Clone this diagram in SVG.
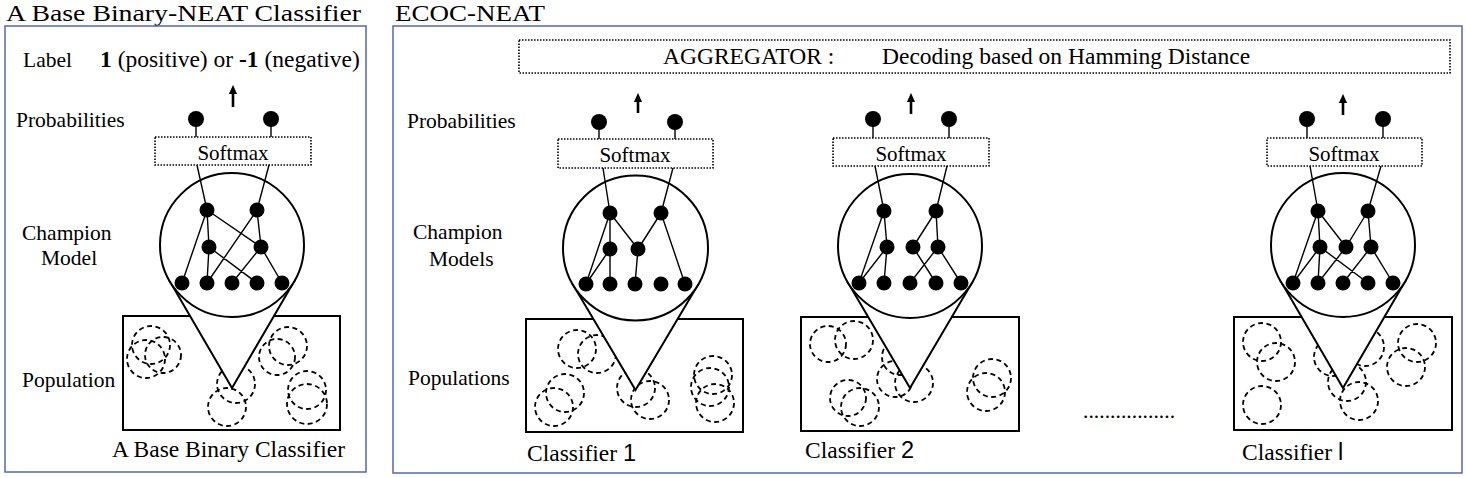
<svg xmlns="http://www.w3.org/2000/svg" width="1466" height="478" viewBox="0 0 1466 478">
<defs>
<style>
text{font-family:"Liberation Serif","Times New Roman",serif;fill:#000}
.ttl{font-size:23px}
.lab{font-size:21.5px}
.big{font-size:23.5px}
.sm{font-size:21px}
.frame{fill:none;stroke:#5468ad;stroke-width:1.5}
.pop{fill:#fff;stroke:#000;stroke-width:2}
.dash{fill:none;stroke:#000;stroke-width:1.8;stroke-dasharray:5 3.5}
.cone{fill:#fff;stroke:#000;stroke-width:2;stroke-linejoin:miter}
.champ{fill:#fff;stroke:#000;stroke-width:2}
.soft{fill:#fff;stroke:#000;stroke-width:1.6;stroke-dasharray:1.5 1.5}
.agg{fill:#fff;stroke:#000;stroke-width:1.6;stroke-dasharray:1.5 1.5}
.e{stroke:#000;stroke-width:1.4;fill:none}
.arr{stroke:#000;stroke-width:2.6;fill:none}
.n{fill:#000}
.sans{font-family:"Liberation Sans",Arial,sans-serif}
</style>
<marker id="ah" markerUnits="userSpaceOnUse" viewBox="0 0 10 10" refX="1" refY="5" markerWidth="9" markerHeight="9" orient="auto">
<path d="M0,0.5 L10,5 L0,9.5 z" fill="#000"/>
</marker>
</defs>

<!-- frames and titles -->
<g id="panel-left">
<text class="ttl" x="6" y="21" textLength="355" lengthAdjust="spacingAndGlyphs">A Base Binary-NEAT Classifier</text>
<rect class="frame" x="5" y="26" width="361" height="446"/>
</g>
<g id="panel-ecoc">
<text class="ttl" x="395" y="21" textLength="150" lengthAdjust="spacingAndGlyphs">ECOC-NEAT</text>
<rect class="frame" x="393" y="26" width="1069" height="447"/>
</g>

<!-- side labels -->
<g id="labels-left">
<text class="lab" x="23" y="67">Label</text>
<text class="big" x="100" y="67"><tspan font-weight="bold">1</tspan> (positive) or <tspan font-weight="bold">-1</tspan> (negative)</text>
<text class="lab" x="16" y="127">Probabilities</text>
<text class="lab" x="22" y="240">Champion</text>
<text class="lab" x="41" y="265">Model</text>
<text class="lab" x="22" y="387">Population</text>
<text class="big" x="112" y="457">A Base Binary Classifier</text>
</g>
<g id="labels-ecoc">
<text class="lab" x="407" y="128">Probabilities</text>
<text class="lab" x="413" y="239">Champion</text>
<text class="lab" x="429" y="266">Models</text>
<text class="lab" x="408" y="385">Populations</text>
<text class="big" x="527" y="461">Classifier <tspan class="sans">1</tspan></text>
<text class="big" x="805" y="458">Classifier <tspan class="sans">2</tspan></text>
<text class="big" x="1242" y="460">Classifier <tspan class="sans">l</tspan></text>
<text class="lab" x="1083" y="418" textLength="92">.................</text>
</g>

<!-- aggregator -->
<g id="aggregator">
<rect class="agg" x="519" y="40" width="931" height="33"/>
<text class="big" x="663" y="64">AGGREGATOR :</text>
<text class="big" x="882" y="64">Decoding based on Hamming Distance</text>
</g>

<!-- populations -->
<g id="pop-left">
<rect class="pop" x="123" y="316" width="217" height="114"/>
<circle class="dash" cx="151" cy="345" r="19"/>
<circle class="dash" cx="146" cy="359" r="19"/>
<circle class="dash" cx="163" cy="355" r="18"/>
<circle class="dash" cx="288" cy="346" r="19"/>
<circle class="dash" cx="277" cy="357" r="18"/>
<circle class="dash" cx="307" cy="390" r="19"/>
<circle class="dash" cx="307" cy="404" r="20"/>
<circle class="dash" cx="236" cy="384" r="19"/>
<circle class="dash" cx="227" cy="407" r="19"/>
</g>
<g id="pop-1">
<rect class="pop" x="526" y="319" width="217" height="113"/>
<circle class="dash" cx="577" cy="349" r="19"/>
<circle class="dash" cx="597" cy="354" r="19"/>
<circle class="dash" cx="565" cy="393" r="19"/>
<circle class="dash" cx="554" cy="407" r="19"/>
<circle class="dash" cx="636" cy="388" r="19"/>
<circle class="dash" cx="650" cy="400" r="19"/>
<circle class="dash" cx="713" cy="375" r="19"/>
<circle class="dash" cx="710" cy="387" r="19"/>
<circle class="dash" cx="715" cy="403" r="19"/>
</g>
<g id="pop-2">
<rect class="pop" x="801" y="317" width="218" height="114"/>
<circle class="dash" cx="828" cy="344" r="18"/>
<circle class="dash" cx="854" cy="340" r="19"/>
<circle class="dash" cx="848" cy="398" r="18"/>
<circle class="dash" cx="860" cy="407" r="19"/>
<circle class="dash" cx="900" cy="357" r="18"/>
<circle class="dash" cx="895" cy="379" r="18"/>
<circle class="dash" cx="914" cy="383" r="19"/>
<circle class="dash" cx="986" cy="392" r="19"/>
<circle class="dash" cx="992" cy="378" r="19"/>
</g>
<g id="pop-l">
<rect class="pop" x="1234" y="317" width="218" height="113"/>
<circle class="dash" cx="1262" cy="342" r="19"/>
<circle class="dash" cx="1276" cy="362" r="19"/>
<circle class="dash" cx="1262" cy="405" r="19"/>
<circle class="dash" cx="1333" cy="357" r="19"/>
<circle class="dash" cx="1365" cy="347" r="19"/>
<circle class="dash" cx="1347" cy="382" r="19"/>
<circle class="dash" cx="1359" cy="401" r="19"/>
<circle class="dash" cx="1417" cy="343" r="19"/>
<circle class="dash" cx="1406" cy="367" r="19"/>
</g>

<!-- champion magnifiers -->
<g id="champ-left">
<polygon class="cone" points="169.8,281.2 232,388 294.2,281.2"/>
<circle class="champ" cx="232" cy="245" r="72"/>
</g>
<g id="champ-1">
<polygon class="cone" points="573.2,285 635.5,390 697.8,285"/>
<circle class="champ" cx="635.5" cy="248" r="72.5"/>
</g>
<g id="champ-2">
<polygon class="cone" points="847.9,282.5 910,388 972.1,282.5"/>
<circle class="champ" cx="910" cy="246" r="72"/>
</g>
<g id="champ-l">
<polygon class="cone" points="1280.8,281.2 1343,388 1405.2,281.2"/>
<circle class="champ" cx="1343" cy="245" r="72"/>
</g>

<!-- softmax boxes -->
<g id="softmax-left"><rect class="soft" x="155" y="137" width="156" height="28"/><text class="sm" x="233" y="160" text-anchor="middle">Softmax</text></g>
<g id="softmax-1"><rect class="soft" x="558" y="139" width="155" height="29"/><text class="sm" x="635" y="162" text-anchor="middle">Softmax</text></g>
<g id="softmax-2"><rect class="soft" x="833" y="138" width="156" height="28"/><text class="sm" x="911" y="161" text-anchor="middle">Softmax</text></g>
<g id="softmax-l"><rect class="soft" x="1267" y="138" width="155" height="28"/><text class="sm" x="1344" y="161" text-anchor="middle">Softmax</text></g>

<!-- connectors -->
<g id="connectors">
<line class="arr" x1="233" y1="107" x2="233" y2="93" marker-end="url(#ah)"/>
<line class="arr" x1="638" y1="113" x2="638" y2="101" marker-end="url(#ah)"/>
<line class="arr" x1="911" y1="114" x2="911" y2="101" marker-end="url(#ah)"/>
<line class="arr" x1="1343" y1="115" x2="1343" y2="102" marker-end="url(#ah)"/>
<path class="e" d="M196,119V137M271,119V137M197,165L207,210M269,165L257,210
M207,210L182,283M207,210L209,247M207,210L261,247M257,210L261,247M257,210L207,283
M209,247L207,283M209,247L257,283M261,247L232,283M261,247L282,283"/>
<path class="e" d="M599,122V139M675,122V139M603,168L610,213M673,168L661,213
M610,213L586,284M610,213L610,249M610,213L638,249M661,213L638,249M661,213L685,284
M610,249L586,284M610,249L610,284M638,249L635,284"/>
<path class="e" d="M873,119V138M949,119V138M875,166L884,211M947,166L936,211
M884,211L859,283M884,211L887,247M887,247L859,283M887,247L884,283
M936,211L913,247M936,211L938,247M913,247L936,283M938,247L910,283M938,247L961,283"/>
<path class="e" d="M1307,119V138M1383,119V138M1310,166L1318,211M1381,166L1368,211
M1318,211L1293,283M1318,211L1320,247M1318,211L1346,247M1368,211L1346,247M1368,211L1371,247
M1320,247L1293,283M1320,247L1318,283M1320,247L1368,283M1346,247L1318,283M1371,247L1343,283M1371,247L1393,283"/>
</g>

<!-- network nodes -->
<g id="nodes-left" class="n">
<circle id="L-p1" cx="196" cy="119" r="8"/><circle id="L-p2" cx="271" cy="119" r="8"/>
<circle id="L-t1" cx="207" cy="210" r="7.5"/><circle id="L-t2" cx="257" cy="210" r="7.5"/>
<circle id="L-m1" cx="209" cy="247" r="7.5"/><circle id="L-m2" cx="261" cy="247" r="7.5"/>
<circle id="L-b1" cx="182" cy="283" r="7.5"/><circle id="L-b2" cx="207" cy="283" r="7.5"/><circle id="L-b3" cx="232" cy="283" r="7.5"/><circle id="L-b4" cx="257" cy="283" r="7.5"/><circle id="L-b5" cx="282" cy="283" r="7.5"/>
</g>
<g id="nodes-1" class="n">
<circle id="C1-p1" cx="599" cy="122" r="8"/><circle id="C1-p2" cx="675" cy="122" r="8"/>
<circle id="C1-t1" cx="610" cy="213" r="7.5"/><circle id="C1-t2" cx="661" cy="213" r="7.5"/>
<circle id="C1-m1" cx="610" cy="249" r="7.5"/><circle id="C1-m2" cx="638" cy="249" r="7.5"/>
<circle id="C1-b1" cx="586" cy="284" r="7.5"/><circle id="C1-b2" cx="610" cy="284" r="7.5"/><circle id="C1-b3" cx="635" cy="284" r="7.5"/><circle id="C1-b4" cx="661" cy="284" r="7.5"/><circle id="C1-b5" cx="685" cy="284" r="7.5"/>
</g>
<g id="nodes-2" class="n">
<circle id="C2-p1" cx="873" cy="119" r="8"/><circle id="C2-p2" cx="949" cy="119" r="8"/>
<circle id="C2-t1" cx="884" cy="211" r="7.5"/><circle id="C2-t2" cx="936" cy="211" r="7.5"/>
<circle id="C2-m1" cx="887" cy="247" r="7.5"/><circle id="C2-m2" cx="913" cy="247" r="7.5"/><circle id="C2-m3" cx="938" cy="247" r="7.5"/>
<circle id="C2-b1" cx="859" cy="283" r="7.5"/><circle id="C2-b2" cx="884" cy="283" r="7.5"/><circle id="C2-b3" cx="910" cy="283" r="7.5"/><circle id="C2-b4" cx="936" cy="283" r="7.5"/><circle id="C2-b5" cx="961" cy="283" r="7.5"/>
</g>
<g id="nodes-l" class="n">
<circle id="Cl-p1" cx="1307" cy="119" r="8"/><circle id="Cl-p2" cx="1383" cy="119" r="8"/>
<circle id="Cl-t1" cx="1318" cy="211" r="7.5"/><circle id="Cl-t2" cx="1368" cy="211" r="7.5"/>
<circle id="Cl-m1" cx="1320" cy="247" r="7.5"/><circle id="Cl-m2" cx="1346" cy="247" r="7.5"/><circle id="Cl-m3" cx="1371" cy="247" r="7.5"/>
<circle id="Cl-b1" cx="1293" cy="283" r="7.5"/><circle id="Cl-b2" cx="1318" cy="283" r="7.5"/><circle id="Cl-b3" cx="1343" cy="283" r="7.5"/><circle id="Cl-b4" cx="1368" cy="283" r="7.5"/><circle id="Cl-b5" cx="1393" cy="283" r="7.5"/>
</g>
</svg>
